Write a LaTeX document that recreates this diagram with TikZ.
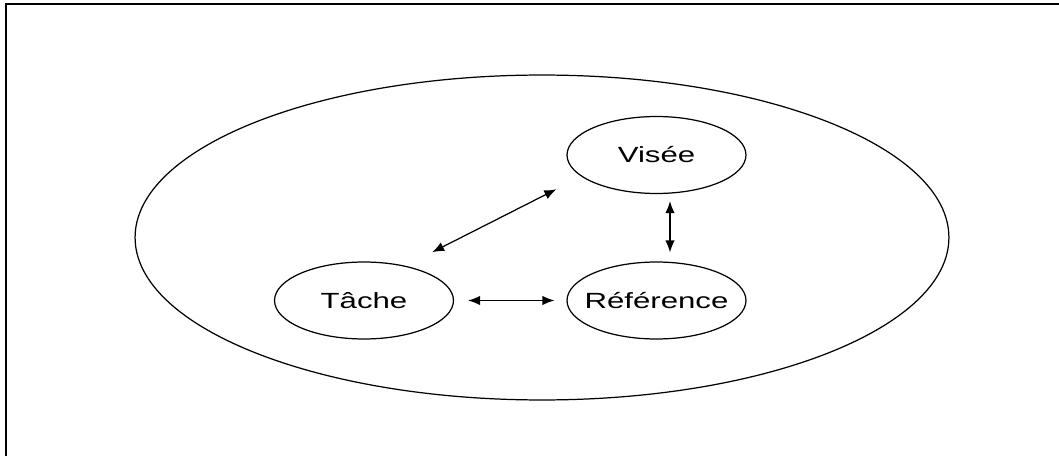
\documentclass[tikz,border=0pt]{standalone}
\usepackage{fontspec}
\setmainfont{Liberation Sans}
\usepackage{graphicx}
\usepackage{tikz}
\usetikzlibrary{shapes.geometric,arrows.meta}
\newcommand{\mot}[1]{\makebox[0pt]{\scalebox{1.42}[1]{#1}}}
\tikzset{pole/.style={draw,ellipse,line width=0.7pt,minimum width=3.58cm,minimum height=1.54cm,inner sep=0pt,font=\fontsize{12.5}{14}\selectfont},
	lien/.style={{Latex[length=2.4mm,width=1.9mm]}-{Latex[length=2.4mm,width=1.9mm]},line width=0.7pt}}

\begin{document}
\begin{tikzpicture}[x=0.02cm,y=-0.02cm]
			\useasboundingbox (0,0) rectangle (1059,456);
			\draw[line width=1.2pt] (6,460) -- (6,4) -- (1063,4);
			\node[draw,ellipse,line width=0.7pt,minimum width=16.28cm,minimum height=6.5cm] (ensemble) at (542,237.5) {};
			\node[pole] (visee) at (656.5,155) {\mot{Visée}};
			\node[pole] (tache) at (364,300.5) {\mot{Tâche}};
			\node[pole] (reference) at (656.5,300.5) {\mot{Référence}};
			% liens
			\draw[lien,shorten <=0.6cm,shorten >=0.56cm] (tache.40) -- (visee.196);
			\draw[lien,shorten <=0.14cm,shorten >=0.18cm] ([xshift=0.27cm]visee.south) -- ([xshift=0.27cm]reference.north);
			\draw[lien,shorten <=0.28cm,shorten >=0.24cm] (tache.east) -- (reference.west);
		\end{tikzpicture}
\end{document}
